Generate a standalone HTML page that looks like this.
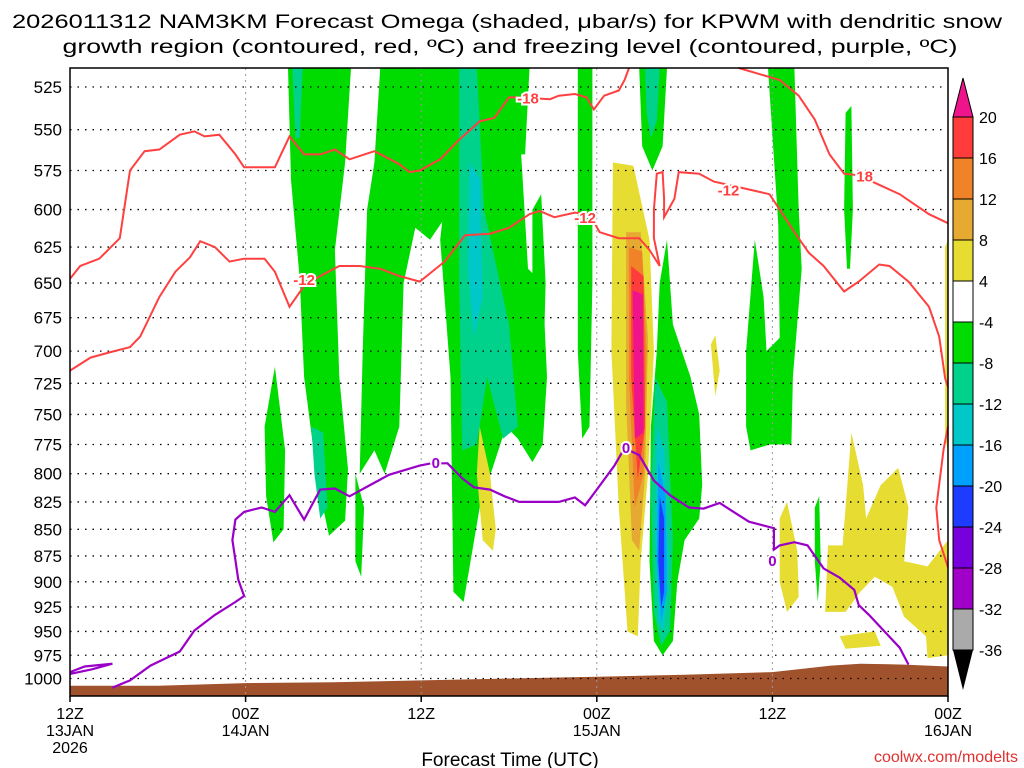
<!DOCTYPE html>
<html><head><meta charset="utf-8"><style>
html,body{margin:0;padding:0;background:#fff;width:1024px;height:768px;overflow:hidden}
svg{display:block;font-family:"Liberation Sans",sans-serif}
</style></head><body>
<svg id="chart" width="1024" height="768" viewBox="0 0 1024 768">
<g id="title">
<text x="507" y="28" font-size="19" text-anchor="middle" textLength="990" lengthAdjust="spacingAndGlyphs">2026011312 NAM3KM Forecast Omega (shaded, μbar/s) for KPWM with dendritic snow</text>
<text x="510" y="53" font-size="19" text-anchor="middle" textLength="895" lengthAdjust="spacingAndGlyphs">growth region (contoured, red, ºC) and freezing level (contoured, purple, ºC)</text>
</g>
<g id="shade"></g>
<g id="ground"></g>
<g id="grid"></g>
<g id="lines"></g>
<rect x="70" y="68" width="878" height="628" fill="none" stroke="#000" stroke-width="1.5"/>
<g id="yaxis"></g>
<g id="xaxis"></g>
<text x="510" y="766" font-size="19" text-anchor="middle">Forecast Time (UTC)</text>
<text x="1018" y="762" font-size="16" fill="#e03030" text-anchor="end">coolwx.com/modelts</text>
<g id="cbar"></g>
</svg>
<script>
// ---- data ----
const pTicks=[525,550,575,600,625,650,675,700,725,750,775,800,825,850,875,900,925,950,975,1000];
const tTicks=[0,12,24,36,48,60];
const tLabels=[["12Z","13JAN","2026"],["00Z","14JAN"],["12Z"],["00Z","15JAN"],["12Z"],["00Z","16JAN"]];
const cbLevels=[20,16,12,8,4,-4,-8,-12,-16,-20,-24,-28,-32,-36];
const cbColors=["#ff3c3c","#f08228","#e6aa32","#e6dc32","#ffffff","#00dc00","#00d28c","#00c8c8","#00a0ff","#1e3cff","#7800dc","#a000c8","#aaaaaa"];
const shadeColor={green:"#00dc00",teal:"#00d28c",cyan:"#00c8c8",lblue:"#00a0ff",blue:"#1e3cff",yellow:"#e6dc32",gold:"#e6aa32",orange:"#f08228",red:"#ff3c3c",pink:"#f0148c"};
const blobs=[
 ["green",[[14.9,514],[19.2,514],[18.8,570],[18.1,627],[18.4,720],[19.0,796],[18.8,842],[17.7,856],[16.9,805],[16.0,720],[15.7,647],[15.1,581]]],
 ["teal",[[16.5,760],[17.3,765],[17.6,830],[17.1,840],[16.7,800]]],
 ["teal",[[15.2,514],[15.9,514],[15.7,555],[15.4,555]]],
 ["green",[[13.3,760],[14.0,712],[14.7,780],[14.6,850],[13.9,862],[13.4,820]]],
 ["green",[[21.2,514],[26.5,514],[26.0,600],[24.6,620],[23.6,612],[22.8,650],[22.5,760],[21.5,800],[20.8,780],[19.8,800],[20.0,700],[20.3,600],[20.8,570]]],
 ["green",[[19.5,800],[20.1,830],[19.9,895],[19.5,880]]],
 ["green",[[26.5,514],[31.0,514],[30.8,560],[31.3,640],[32.3,650],[32.6,720],[32.3,775],[31.6,790],[30.6,770],[29.8,760],[28.0,830],[26.9,920],[26.2,910],[26.0,720],[25.3,620],[26.0,560]]],
 ["teal",[[26.6,514],[27.8,514],[28.3,600],[30.0,680],[30.6,760],[29.6,770],[28.5,720],[27.8,775],[26.8,780],[26.6,650]]],
 ["cyan",[[27.3,570],[28.0,580],[28.2,660],[27.6,690],[27.2,640]]],
 ["green",[[30.4,514],[31.4,514],[31.1,565],[30.8,565]]],
 ["green",[[31.6,600],[32.2,590],[32.5,650],[32.3,736],[31.8,736],[31.6,680]]],
 ["green",[[34.7,514],[35.7,514],[35.7,650],[35.5,760],[35.0,770],[34.7,700]]],
 ["green",[[38.9,514],[40.8,514],[40.5,560],[39.8,575],[39.1,560]]],
 ["teal",[[39.3,514],[40.3,514],[40.1,545],[39.7,555],[39.4,540]]],
 ["yellow",[[28.0,760],[28.7,800],[29.1,850],[28.9,870],[28.2,860],[27.8,800]]],
 ["yellow",[[37.1,570],[38.5,572],[39.6,620],[39.9,700],[39.5,800],[39.0,880],[38.8,955],[38.1,950],[37.5,830],[37.0,700]]],
 ["gold",[[38.0,615],[39.0,615],[39.5,690],[39.3,800],[38.9,870],[38.4,860],[38.0,740]]],
 ["orange",[[38.2,625],[39.1,628],[39.4,700],[39.2,800],[38.6,830],[38.2,720]]],
 ["red",[[38.35,638],[39.2,645],[39.3,760],[38.8,805],[38.35,720]]],
 ["pink",[[38.45,655],[39.15,658],[39.2,765],[38.6,770]]],
 ["green",[[40.3,650],[40.8,620],[41.2,680],[42.4,720],[43.0,750],[43.2,810],[43.0,840],[42.0,860],[41.5,900],[41.2,960],[40.5,975],[39.9,960],[39.6,880],[39.7,760],[40.1,700]]],
 ["teal",[[40.0,720],[40.8,740],[41.2,860],[41.0,950],[40.4,965],[39.9,930],[39.7,820]]],
 ["cyan",[[40.1,760],[40.6,780],[40.9,880],[40.6,950],[40.2,940],[40.0,850]]],
 ["lblue",[[40.2,790],[40.7,820],[40.8,910],[40.4,940],[40.1,880]]],
 ["blue",[[40.3,820],[40.6,840],[40.6,910],[40.4,925],[40.2,880]]],
 ["yellow",[[43.8,695],[44.1,688],[44.4,715],[44.1,735]]],
 ["green",[[46.2,700],[46.8,620],[47.4,660],[47.6,700],[48.5,690],[48.4,610],[47.7,514],[49.5,514],[49.8,600],[50.0,640],[49.4,720],[49.3,775],[47.8,775],[46.5,780],[46.2,760]]],
 ["green",[[53.0,540],[53.4,536],[53.5,600],[53.3,640],[53.1,640],[52.9,600]]],
 ["yellow",[[48.5,840],[49.0,825],[49.7,870],[49.8,915],[49.0,930],[48.5,900]]],
 ["green",[[50.9,830],[51.2,820],[51.3,880],[51.1,920],[50.9,880]]],
 ["yellow",[[51.6,930],[51.8,865],[52.8,865],[53.4,765],[54.2,810],[54.4,840],[55.4,810],[56.6,795],[57.3,830],[57.0,880],[58.6,885],[60,860],[60,975],[58.6,978],[58.5,955],[57.0,935],[56.2,905],[55.0,895],[54.0,910],[53.0,930],[52.4,930]]],
 ["yellow",[[52.6,955],[55.0,950],[55.4,965],[53.0,968]]],
 ["yellow",[[59.8,625],[60,620],[60,780],[59.8,770]]]
];
const ground=[[0,1008],[6,1008],[12,1005],[18,1004],[24,1002],[30,1000],[36,998],[42,996],[48,993],[52,986],[54,984],[57,985],[60,987]];
const dgz=[
 [[0,647],[0.7,638],[2.0,633],[3.4,619],[4.1,575],[5.1,563],[6.1,562],[7.5,553],[8.5,551],[9.2,554],[10.2,553],[11.3,565],[11.9,573],[14.0,573],[15.0,554],[16.0,565],[17.1,565],[18.1,562],[19.1,568],[20.8,563],[22.5,571],[23.2,576],[23.9,575],[25.3,568],[26.6,556],[28.0,545],[29.0,543],[30.0,531],[30.7,531],[32.8,532],[33.4,530],[34.5,529],[35.3,531],[35.8,538],[36.5,530],[37.5,527],[37.9,521],[38.2,514]],
 [[45.7,514],[48.5,521],[49.8,530],[50.9,544],[51.9,565],[52.9,577],[53.9,578],[55.3,584],[56.7,590],[58.7,603],[60,609]],
 [[0,715],[1.4,705],[2.7,701],[4.1,697],[4.8,689],[6.1,660],[7.2,642],[8.2,632],[8.9,621],[9.9,625],[10.9,635],[11.9,633],[13.3,633],[14.0,642],[15.0,667],[16.0,652],[17.1,645],[18.4,638],[19.8,638],[21.2,640],[22.5,645],[23.9,649],[25.6,635],[27.0,617],[28.7,616],[30.0,612],[31.4,603],[32.1,601],[33.1,605],[34.5,602],[35.5,603],[36.2,615],[37.5,619],[38.9,619],[39.6,627],[40.3,638],[39.9,619],[39.9,600],[40.1,577],[40.5,576],[40.6,593],[40.6,605],[41.3,593],[41.6,576],[43.0,577],[44.0,582],[46.4,587],[47.8,590],[48.5,600],[49.5,615],[50.5,629],[51.5,638],[52.9,656],[53.9,649],[55.3,637],[56.0,638],[57.3,649],[58.7,667],[59.4,689],[59.8,721],[60,728]],
 [[60,760],[59.7,779],[59.2,830],[59.4,860],[60,886]]
];
const frz=[
 [[0,993],[1.0,987],[2.9,984],[1.5,990],[0,995]],
 [[2.9,1010],[4.1,1002],[5.5,986],[7.5,971],[8.5,949],[9.9,933],[11.3,920],[11.9,914],[11.5,898],[11.3,879],[11.1,860],[11.3,841],[11.9,834],[13.1,830],[14.0,834],[15.0,819],[16.0,841],[17.1,814],[18.1,813],[19.1,820],[20.5,810],[21.8,801],[23.9,793],[24.7,791],[25.8,791],[26.8,804],[27.6,812],[28.7,814],[29.7,820],[30.7,825],[31.7,825],[33.4,825],[34.5,821],[35.2,828],[36.0,814],[37.2,793],[37.9,778],[38.9,784],[39.9,806],[41.0,819],[42.3,830],[43.3,831],[44.4,826],[45.7,837],[46.4,843],[48.1,849],[48.1,869],[48.5,865],[49.5,862],[50.4,865],[51.5,887],[52.6,896],[53.6,908],[53.9,923],[54.6,933],[55.6,949],[56.7,967],[57.3,985]]
];
const dgzLabels=[[31.3,531,"-18"],[16.0,647,"-12"],[35.2,605,"-12"],[45.0,587,"-12"],[54.3,578,"18"]];
const frzLabels=[[25.0,790,"0"],[38.0,777,"0"],[48.0,879,"0"]];

// ---- scales ----
const X0=70,X1=948,Y0=68,Y1=696;
const x=h=>X0+h*(X1-X0)/60;
const y=p=>87+918*Math.log(p/525);
const NS="http://www.w3.org/2000/svg";
function mk(tag,attrs,parent){const e=document.createElementNS(NS,tag);for(const k in attrs)e.setAttribute(k,attrs[k]);parent.appendChild(e);return e;}
const pts=a=>a.map(d=>x(d[0]).toFixed(1)+","+Math.max(Y0,Math.min(Y1,y(d[1]))).toFixed(1)).join(" ");

const gS=document.getElementById("shade");
blobs.forEach(b=>{const e=mk("polygon",{points:pts(b[1]),fill:shadeColor[b[0]]},gS);

});

const gG=document.getElementById("ground");
const gp=pts(ground)+" "+x(60)+","+Y1+" "+x(0)+","+Y1;
const ge=mk("polygon",{points:gp,fill:"#a0522d"},gG);



const gr=document.getElementById("grid");
pTicks.forEach(p=>{const l=mk("line",{x1:X0,x2:X1,y1:y(p),y2:y(p),stroke:"#000","stroke-width":1.3,"stroke-dasharray":"1.5,6"},gr);

});
tTicks.slice(1,-1).forEach(t=>{const l=mk("line",{x1:x(t),x2:x(t),y1:Y0,y2:Y1,stroke:"#999","stroke-width":1,"stroke-dasharray":"2,4"},gr);

});

const gL=document.getElementById("lines");
dgz.forEach(s=>{const e=mk("polyline",{points:pts(s),fill:"none",stroke:"#ff4040","stroke-width":2},gL);

});
frz.forEach(s=>{const e=mk("polyline",{points:pts(s),fill:"none",stroke:"#9a00c8","stroke-width":2.2},gL);

});
dgzLabels.forEach(l=>{
const t=mk("text",{x:x(l[0]),y:y(l[1])+6,"font-size":15,"font-weight":"bold",fill:"#ff4040","text-anchor":"middle",stroke:"#fff","stroke-width":4,"paint-order":"stroke"},gL);t.textContent=l[2];

});
frzLabels.forEach(l=>{const t=mk("text",{x:x(l[0]),y:y(l[1])+6,"font-size":15,"font-weight":"bold",fill:"#9a00c8","text-anchor":"middle",stroke:"#fff","stroke-width":4,"paint-order":"stroke"},gL);t.textContent=l[2];

});

const gy=document.getElementById("yaxis");
pTicks.forEach(p=>{const t=mk("text",{x:62,y:y(p)+6,"font-size":17,"text-anchor":"end"},gy);t.textContent=p;

});
const gx=document.getElementById("xaxis");
tTicks.forEach((tt,i)=>{mk("line",{x1:x(tt),x2:x(tt),y1:Y1,y2:Y1+6,stroke:"#000","stroke-width":1.5},gx);
tLabels[i].forEach((s,j)=>{const t=mk("text",{x:x(tt),y:719+j*17,"font-size":16,"text-anchor":"middle"},gx);t.textContent=s;

});});

const gc=document.getElementById("cbar");
const cx=953,cw=20,cy=v=>117+(20-v)/4*41-(v<=-4?41:0);
mk("polygon",{points:`${cx},117 ${cx+cw},117 ${cx+cw/2},78`,fill:"#f0148c",stroke:"#000"},gc);
for(let i=0;i<cbColors.length;i++){const y0=cy(cbLevels[i]),y1=cy(cbLevels[i+1]);
const r=mk("rect",{x:cx,y:y0,width:cw,height:y1-y0,fill:cbColors[i],stroke:"#000","stroke-width":1},gc);

}
const yb=cy(-36);
mk("polygon",{points:`${cx},${yb} ${cx+cw},${yb} ${cx+cw/2},${yb+40}`,fill:"#000"},gc);
cbLevels.forEach(v=>{const t=mk("text",{x:979,y:cy(v)+6,"font-size":16},gc);t.textContent=v;

});
</script>
</body></html>
